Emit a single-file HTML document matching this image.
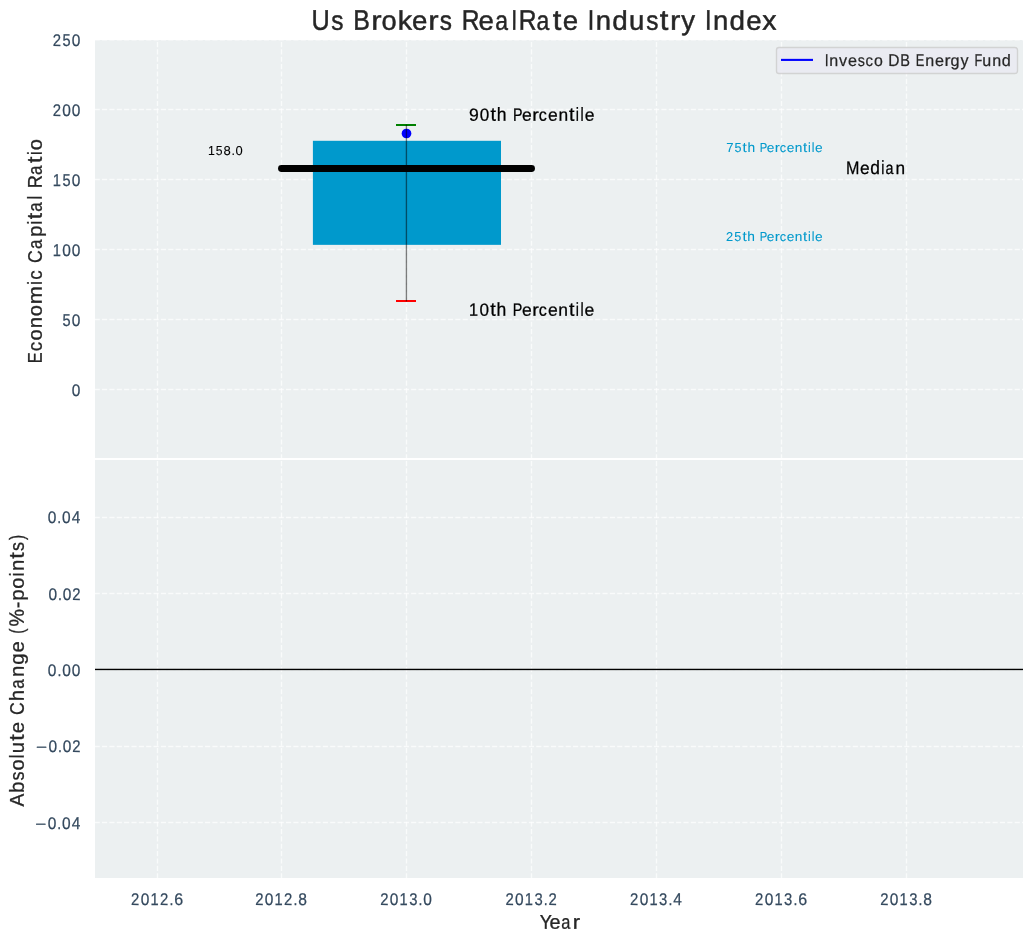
<!DOCTYPE html>
<html><head><meta charset="utf-8"><title>Us Brokers RealRate Industry Index</title>
<style>
html,body{margin:0;padding:0;background:#ffffff;}
body{width:1034px;height:942px;overflow:hidden;}
svg{display:block;will-change:transform;}
svg text{font-family:"Liberation Sans",sans-serif;}
</style></head>
<body>
<svg width="1034" height="942" viewBox="0 0 1034 942">
<rect x="0" y="0" width="1034" height="942" fill="#ffffff"/>
<defs><clipPath id="axt"><rect x="95" y="40" width="928" height="419"/></clipPath><clipPath id="axb"><rect x="95" y="459" width="928" height="419"/></clipPath></defs>
<rect x="95" y="40" width="928" height="838" fill="#ecf0f1"/>
<g clip-path="url(#axt)" stroke="#ffffff" stroke-opacity="0.7" stroke-width="1.39" stroke-dasharray="5.14 2.22" fill="none">
<path d="M94.65 39.70H1023"/>
<path d="M94.65 109.50H1023"/>
<path d="M94.65 179.50H1023"/>
<path d="M94.65 249.50H1023"/>
<path d="M94.65 319.50H1023"/>
<path d="M94.65 389.50H1023"/>
<path d="M157.50 459.3V40"/>
<path d="M281.50 459.3V40"/>
<path d="M406.50 459.3V40"/>
<path d="M531.50 459.3V40"/>
<path d="M656.50 459.3V40"/>
<path d="M781.50 459.3V40"/>
<path d="M906.50 459.3V40"/>
</g>
<g clip-path="url(#axb)" stroke="#ffffff" stroke-opacity="0.7" stroke-width="1.39" stroke-dasharray="5.14 2.22" fill="none">
<path d="M94.65 517.50H1023"/>
<path d="M94.65 593.50H1023"/>
<path d="M94.65 669.50H1023"/>
<path d="M94.65 746.50H1023"/>
<path d="M94.65 822.50H1023"/>
<path d="M157.50 878.3V459"/>
<path d="M281.50 878.3V459"/>
<path d="M406.50 878.3V459"/>
<path d="M531.50 878.3V459"/>
<path d="M656.50 878.3V459"/>
<path d="M781.50 878.3V459"/>
<path d="M906.50 878.3V459"/>
</g>
<rect x="95" y="458" width="928" height="2" fill="#ffffff"/>
<rect x="312.9" y="140.8" width="188.1" height="104.05" fill="#0099cc"/>
<rect x="396" y="124" width="20" height="2" fill="#008000"/>
<rect x="396" y="300" width="20" height="2" fill="#ff0000"/>
<circle cx="406.5" cy="133.5" r="4.85" fill="#0000ff"/>
<rect x="405.75" y="124.6" width="1.35" height="176.8" fill="#000000" fill-opacity="0.5"/>
<path d="M281.5 168.5H531.5" stroke="#000000" stroke-width="6.94" stroke-linecap="round" fill="none"/>
<rect x="95" y="668.75" width="928" height="1.4" fill="#000000"/>
<rect x="776.5" y="47.5" width="241" height="26" rx="2.6" ry="2.6" fill="#eaeaf2" fill-opacity="0.8" stroke="#cccccc" stroke-opacity="0.8" stroke-width="1.39"/>
<path d="M781 59.9H813" stroke="#0000ff" stroke-width="2.1" fill="none"/>
<g aria-label="Us Brokers RealRate Industry Index" fill="#262626" stroke="#262626" stroke-width="0.45" font-size="26.467"><text transform="matrix(0.9529 .002 -.002 1.0737 311.48 29.77)">U</text><text transform="matrix(0.9196 .002 -.002 1.0245 331.25 29.77)">s</text><text transform="matrix(0.9396 .002 -.002 1.0737 353.26 29.77)">B</text><text transform="matrix(1.1700 .002 -.002 1.0217 371.20 29.77)">r</text><text transform="matrix(1.0271 .002 -.002 1.0217 381.47 29.77)">o</text><text transform="matrix(1.0789 .002 -.002 1.0194 397.83 29.77)">k</text><text transform="matrix(1.0439 .002 -.002 1.0217 412.02 29.77)">e</text><text transform="matrix(1.1700 .002 -.002 1.0217 428.36 29.77)">r</text><text transform="matrix(0.9196 .002 -.002 1.0245 439.65 29.77)">s</text><text transform="matrix(0.9278 .002 -.002 1.0737 461.68 29.77)">R</text><text transform="matrix(1.0439 .002 -.002 1.0217 478.58 29.77)">e</text><text transform="matrix(0.8661 .002 -.002 1.0217 495.20 29.77)">a</text><text transform="matrix(0.8288 .002 -.002 1.0194 511.82 29.77)">l</text><text transform="matrix(0.9278 .002 -.002 1.0737 518.74 29.77)">R</text><text transform="matrix(0.8661 .002 -.002 1.0217 536.58 29.77)">a</text><text transform="matrix(1.1700 .002 -.002 1.0841 552.76 29.77)">t</text><text transform="matrix(1.0439 .002 -.002 1.0217 562.84 29.77)">e</text><text transform="matrix(0.8753 .002 -.002 1.0737 587.71 29.77)">I</text><text transform="matrix(1.0381 .002 -.002 1.0217 595.64 29.77)">n</text><text transform="matrix(1.0491 .002 -.002 1.0194 612.13 29.77)">d</text><text transform="matrix(1.0381 .002 -.002 1.0406 629.10 29.77)">u</text><text transform="matrix(0.9196 .002 -.002 1.0245 646.16 29.77)">s</text><text transform="matrix(1.1700 .002 -.002 1.0841 659.78 29.77)">t</text><text transform="matrix(1.1700 .002 -.002 1.0217 669.92 29.77)">r</text><text transform="matrix(1.0396 .002 -.002 1.0406 681.18 29.77)">y</text><text transform="matrix(0.8753 .002 -.002 1.0737 704.99 29.77)">I</text><text transform="matrix(1.0381 .002 -.002 1.0217 712.91 29.77)">n</text><text transform="matrix(1.0491 .002 -.002 1.0194 729.40 29.77)">d</text><text transform="matrix(1.0439 .002 -.002 1.0217 746.20 29.77)">e</text><text transform="matrix(1.0737 .002 -.002 1.0406 762.17 29.77)">x</text></g>
<g aria-label="Year" fill="#262626" stroke="#262626" stroke-width="0.30" font-size="18.876"><text transform="matrix(0.9615 .002 -.002 1.0552 539.75 928.85)">Y</text><text transform="matrix(1.0467 .002 -.002 1.0538 549.41 928.85)">e</text><text transform="matrix(0.8687 .002 -.002 1.0538 561.26 928.85)">a</text><text transform="matrix(1.1700 .002 -.002 1.0538 572.64 928.85)">r</text></g>
<g aria-label="Invesco DB Energy Fund" fill="#262626" stroke="#262626" stroke-width="0.22" font-size="15.381"><text transform="matrix(0.9021 .002 -.002 1.1129 824.63 65.89)">I</text><text transform="matrix(1.0440 .002 -.002 1.0605 829.27 65.89)">n</text><text transform="matrix(1.0498 .002 -.002 1.0801 839.09 65.89)">v</text><text transform="matrix(1.0492 .002 -.002 1.0605 847.95 65.89)">e</text><text transform="matrix(0.9253 .002 -.002 1.0634 857.69 65.89)">s</text><text transform="matrix(0.9698 .002 -.002 1.0605 865.48 65.89)">c</text><text transform="matrix(1.0324 .002 -.002 1.0605 873.90 65.89)">o</text><text transform="matrix(1.0101 .002 -.002 1.1129 888.26 65.89)">D</text><text transform="matrix(0.9443 .002 -.002 1.1129 900.18 65.89)">B</text><text transform="matrix(0.8399 .002 -.002 1.1129 915.76 65.89)">E</text><text transform="matrix(1.0440 .002 -.002 1.0605 925.35 65.89)">n</text><text transform="matrix(1.0492 .002 -.002 1.0605 934.94 65.89)">e</text><text transform="matrix(1.1700 .002 -.002 1.0605 944.44 65.89)">r</text><text transform="matrix(1.0546 .002 -.002 1.0634 950.46 65.89)">g</text><text transform="matrix(1.0446 .002 -.002 1.0801 960.47 65.89)">y</text><text transform="matrix(0.8275 .002 -.002 1.1129 974.51 65.89)">F</text><text transform="matrix(1.0440 .002 -.002 1.0801 982.31 65.89)">u</text><text transform="matrix(1.0440 .002 -.002 1.0605 992.13 65.89)">n</text><text transform="matrix(1.0546 .002 -.002 1.0746 1001.71 65.89)">d</text></g>
<g aria-label="90th Percentile" fill="#000000" stroke="#000000" stroke-width="0.25" font-size="16.681"><text transform="matrix(1.0563 .002 -.002 1.0603 469.00 120.87)">9</text><text transform="matrix(1.0227 .002 -.002 1.0603 479.82 120.87)">0</text><text transform="matrix(1.1700 .002 -.002 1.1452 490.38 120.87)">t</text><text transform="matrix(1.0501 .002 -.002 1.1293 496.84 120.87)">h</text><text transform="matrix(0.8562 .002 -.002 1.0761 512.88 120.87)">P</text><text transform="matrix(1.0481 .002 -.002 1.0417 522.06 120.87)">e</text><text transform="matrix(1.1700 .002 -.002 1.0417 532.36 120.87)">r</text><text transform="matrix(0.9686 .002 -.002 1.0417 538.87 120.87)">c</text><text transform="matrix(1.0481 .002 -.002 1.0417 547.98 120.87)">e</text><text transform="matrix(1.0428 .002 -.002 1.0417 558.43 120.87)">n</text><text transform="matrix(1.1700 .002 -.002 1.1452 569.02 120.87)">t</text><text transform="matrix(0.8515 .002 -.002 1.1293 575.80 120.87)">i</text><text transform="matrix(0.8515 .002 -.002 1.1293 580.43 120.87)">l</text><text transform="matrix(1.0481 .002 -.002 1.0417 584.63 120.87)">e</text></g>
<g aria-label="10th Percentile" fill="#000000" stroke="#000000" stroke-width="0.25" font-size="16.719"><text transform="matrix(0.9720 .002 -.002 1.0736 469.09 315.87)">1</text><text transform="matrix(1.0227 .002 -.002 1.0578 479.56 315.87)">0</text><text transform="matrix(1.1700 .002 -.002 1.1425 490.15 315.87)">t</text><text transform="matrix(1.0500 .002 -.002 1.1266 496.62 315.87)">h</text><text transform="matrix(0.8562 .002 -.002 1.0736 512.70 315.87)">P</text><text transform="matrix(1.0481 .002 -.002 1.0392 521.89 315.87)">e</text><text transform="matrix(1.1700 .002 -.002 1.0392 532.22 315.87)">r</text><text transform="matrix(0.9686 .002 -.002 1.0392 538.74 315.87)">c</text><text transform="matrix(1.0481 .002 -.002 1.0392 547.88 315.87)">e</text><text transform="matrix(1.0428 .002 -.002 1.0392 558.35 315.87)">n</text><text transform="matrix(1.1700 .002 -.002 1.1425 568.97 315.87)">t</text><text transform="matrix(0.8513 .002 -.002 1.1266 575.76 315.87)">i</text><text transform="matrix(0.8513 .002 -.002 1.1266 580.40 315.87)">l</text><text transform="matrix(1.0481 .002 -.002 1.0392 584.61 315.87)">e</text></g>
<g aria-label="75th Percentile" fill="#0099cc" stroke="#0099cc" stroke-width="0.08" font-size="12.826"><text transform="matrix(1.0174 .002 -.002 1.0109 726.27 151.96)">7</text><text transform="matrix(0.9817 .002 -.002 1.0109 734.53 151.96)">5</text><text transform="matrix(1.1700 .002 -.002 1.0757 742.56 151.96)">t</text><text transform="matrix(1.0709 .002 -.002 1.0458 747.45 151.96)">h</text><text transform="matrix(0.8727 .002 -.002 1.0109 759.78 151.96)">P</text><text transform="matrix(1.0668 .002 -.002 1.0172 766.85 151.96)">e</text><text transform="matrix(1.1700 .002 -.002 1.0172 774.78 151.96)">r</text><text transform="matrix(0.9889 .002 -.002 1.0172 779.77 151.96)">c</text><text transform="matrix(1.0668 .002 -.002 1.0172 786.78 151.96)">e</text><text transform="matrix(1.0635 .002 -.002 1.0172 794.81 151.96)">n</text><text transform="matrix(1.1700 .002 -.002 1.0757 803.03 151.96)">t</text><text transform="matrix(0.9513 .002 -.002 1.0458 808.10 151.96)">i</text><text transform="matrix(0.9513 .002 -.002 1.0458 811.65 151.96)">l</text><text transform="matrix(1.0668 .002 -.002 1.0172 814.96 151.96)">e</text></g>
<g aria-label="25th Percentile" fill="#0099cc" stroke="#0099cc" stroke-width="0.08" font-size="12.851"><text transform="matrix(1.0024 .002 -.002 0.9941 725.99 240.96)">2</text><text transform="matrix(0.9817 .002 -.002 1.0089 734.36 240.96)">5</text><text transform="matrix(1.1700 .002 -.002 1.0736 742.40 240.96)">t</text><text transform="matrix(1.0709 .002 -.002 1.0438 747.30 240.96)">h</text><text transform="matrix(0.8727 .002 -.002 1.0089 759.66 240.96)">P</text><text transform="matrix(1.0669 .002 -.002 1.0152 766.74 240.96)">e</text><text transform="matrix(1.1700 .002 -.002 1.0152 774.69 240.96)">r</text><text transform="matrix(0.9890 .002 -.002 1.0152 779.69 240.96)">c</text><text transform="matrix(1.0669 .002 -.002 1.0152 786.71 240.96)">e</text><text transform="matrix(1.0635 .002 -.002 1.0152 794.75 240.96)">n</text><text transform="matrix(1.1700 .002 -.002 1.0736 802.99 240.96)">t</text><text transform="matrix(0.9514 .002 -.002 1.0438 808.07 240.96)">i</text><text transform="matrix(0.9514 .002 -.002 1.0438 811.63 240.96)">l</text><text transform="matrix(1.0669 .002 -.002 1.0152 814.94 240.96)">e</text></g>
<g aria-label="Median" fill="#000000" stroke="#000000" stroke-width="0.25" font-size="16.502"><text transform="matrix(0.9747 .002 -.002 1.0969 846.00 173.88)">M</text><text transform="matrix(1.0483 .002 -.002 1.0646 860.12 173.88)">e</text><text transform="matrix(1.0536 .002 -.002 1.1502 870.27 173.88)">d</text><text transform="matrix(0.8522 .002 -.002 1.1502 881.18 173.88)">i</text><text transform="matrix(0.8702 .002 -.002 1.0646 885.54 173.88)">a</text><text transform="matrix(1.0430 .002 -.002 1.0646 895.62 173.88)">n</text></g>
<g aria-label="158.0" fill="#000000" stroke="#000000" stroke-width="0.08" font-size="12.432"><text transform="matrix(0.9919 .002 -.002 1.0429 207.90 154.96)">1</text><text transform="matrix(0.9813 .002 -.002 1.0429 215.85 154.96)">5</text><text transform="matrix(1.0518 .002 -.002 1.0275 223.57 154.96)">8</text><text transform="matrix(1.0145 .002 -.002 1.1598 231.38 154.96)">.</text><text transform="matrix(1.0407 .002 -.002 1.0275 235.47 154.96)">0</text></g>
<g aria-label="250" fill="#34495e" stroke="#34495e" stroke-width="0.22" font-size="15.080"><text transform="matrix(0.9845 .002 -.002 1.1191 52.63 45.89)">2</text><text transform="matrix(0.9645 .002 -.002 1.1358 62.45 45.89)">5</text><text transform="matrix(1.0241 .002 -.002 1.1191 71.86 45.89)">0</text></g>
<g aria-label="200" fill="#34495e" stroke="#34495e" stroke-width="0.22" font-size="15.080"><text transform="matrix(0.9845 .002 -.002 1.1191 52.63 115.89)">2</text><text transform="matrix(1.0241 .002 -.002 1.1191 62.26 115.89)">0</text><text transform="matrix(1.0241 .002 -.002 1.1191 71.86 115.89)">0</text></g>
<g aria-label="150" fill="#34495e" stroke="#34495e" stroke-width="0.22" font-size="15.080"><text transform="matrix(0.9735 .002 -.002 1.1358 52.82 185.89)">1</text><text transform="matrix(0.9645 .002 -.002 1.1358 62.45 185.89)">5</text><text transform="matrix(1.0241 .002 -.002 1.1191 71.86 185.89)">0</text></g>
<g aria-label="100" fill="#34495e" stroke="#34495e" stroke-width="0.22" font-size="15.080"><text transform="matrix(0.9735 .002 -.002 1.1358 52.82 255.89)">1</text><text transform="matrix(1.0241 .002 -.002 1.1191 62.26 255.89)">0</text><text transform="matrix(1.0241 .002 -.002 1.1191 71.86 255.89)">0</text></g>
<g aria-label="50" fill="#34495e" stroke="#34495e" stroke-width="0.22" font-size="15.080"><text transform="matrix(0.9645 .002 -.002 1.1358 62.45 325.89)">5</text><text transform="matrix(1.0241 .002 -.002 1.1191 71.86 325.89)">0</text></g>
<g aria-label="0" fill="#34495e" stroke="#34495e" stroke-width="0.22" font-size="15.080"><text transform="matrix(1.0241 .002 -.002 1.1191 71.86 395.89)">0</text></g>
<g aria-label="0.04" fill="#34495e" stroke="#34495e" stroke-width="0.22" font-size="15.080"><text transform="matrix(1.0241 .002 -.002 1.1191 47.72 522.89)">0</text><text transform="matrix(0.9311 .002 -.002 1.1598 57.25 522.89)">.</text><text transform="matrix(1.0241 .002 -.002 1.1191 62.11 522.89)">0</text><text transform="matrix(1.0257 .002 -.002 1.1358 71.69 522.89)">4</text></g>
<g aria-label="0.02" fill="#34495e" stroke="#34495e" stroke-width="0.22" font-size="15.080"><text transform="matrix(1.0241 .002 -.002 1.1191 48.38 599.89)">0</text><text transform="matrix(0.9311 .002 -.002 1.1598 57.92 599.89)">.</text><text transform="matrix(1.0241 .002 -.002 1.1191 62.77 599.89)">0</text><text transform="matrix(0.9845 .002 -.002 1.1191 72.33 599.89)">2</text></g>
<g aria-label="0.00" fill="#34495e" stroke="#34495e" stroke-width="0.22" font-size="15.080"><text transform="matrix(1.0241 .002 -.002 1.1191 47.87 675.89)">0</text><text transform="matrix(0.9311 .002 -.002 1.1598 57.41 675.89)">.</text><text transform="matrix(1.0241 .002 -.002 1.1191 62.26 675.89)">0</text><text transform="matrix(1.0241 .002 -.002 1.1191 71.86 675.89)">0</text></g>
<g aria-label="−0.02" fill="#34495e" stroke="#34495e" stroke-width="0.22" font-size="15.080"><text transform="matrix(1.2589 .002 -.002 0.9427 36.02 751.89)">−</text><text transform="matrix(1.0241 .002 -.002 1.1191 48.38 751.89)">0</text><text transform="matrix(0.9311 .002 -.002 1.1598 57.92 751.89)">.</text><text transform="matrix(1.0241 .002 -.002 1.1191 62.77 751.89)">0</text><text transform="matrix(0.9845 .002 -.002 1.1191 72.33 751.89)">2</text></g>
<g aria-label="−0.04" fill="#34495e" stroke="#34495e" stroke-width="0.22" font-size="15.080"><text transform="matrix(1.2589 .002 -.002 0.9427 35.35 828.89)">−</text><text transform="matrix(1.0241 .002 -.002 1.1191 47.72 828.89)">0</text><text transform="matrix(0.9311 .002 -.002 1.1598 57.25 828.89)">.</text><text transform="matrix(1.0241 .002 -.002 1.1191 62.11 828.89)">0</text><text transform="matrix(1.0257 .002 -.002 1.1358 71.69 828.89)">4</text></g>
<g aria-label="2012.6" fill="#34495e" stroke="#34495e" stroke-width="0.22" font-size="15.080"><text transform="matrix(0.9845 .002 -.002 1.1191 131.11 904.89)">2</text><text transform="matrix(1.0241 .002 -.002 1.1191 140.73 904.89)">0</text><text transform="matrix(0.9735 .002 -.002 1.1358 150.48 904.89)">1</text><text transform="matrix(0.9845 .002 -.002 1.1191 159.89 904.89)">2</text><text transform="matrix(0.9311 .002 -.002 1.1598 169.46 904.89)">.</text><text transform="matrix(1.0599 .002 -.002 1.1191 174.16 904.89)">6</text></g>
<g aria-label="2012.8" fill="#34495e" stroke="#34495e" stroke-width="0.22" font-size="15.080"><text transform="matrix(0.9845 .002 -.002 1.1191 255.15 904.89)">2</text><text transform="matrix(1.0241 .002 -.002 1.1191 264.77 904.89)">0</text><text transform="matrix(0.9735 .002 -.002 1.1358 274.52 904.89)">1</text><text transform="matrix(0.9845 .002 -.002 1.1191 283.93 904.89)">2</text><text transform="matrix(0.9311 .002 -.002 1.1598 293.50 904.89)">.</text><text transform="matrix(1.0349 .002 -.002 1.1191 298.31 904.89)">8</text></g>
<g aria-label="2013.0" fill="#34495e" stroke="#34495e" stroke-width="0.22" font-size="15.080"><text transform="matrix(0.9845 .002 -.002 1.1191 380.13 904.89)">2</text><text transform="matrix(1.0241 .002 -.002 1.1191 389.76 904.89)">0</text><text transform="matrix(0.9735 .002 -.002 1.1358 399.50 904.89)">1</text><text transform="matrix(0.9821 .002 -.002 1.1191 409.14 904.89)">3</text><text transform="matrix(0.9311 .002 -.002 1.1598 418.48 904.89)">.</text><text transform="matrix(1.0241 .002 -.002 1.1191 423.34 904.89)">0</text></g>
<g aria-label="2013.2" fill="#34495e" stroke="#34495e" stroke-width="0.22" font-size="15.080"><text transform="matrix(0.9845 .002 -.002 1.1191 505.39 904.89)">2</text><text transform="matrix(1.0241 .002 -.002 1.1191 515.01 904.89)">0</text><text transform="matrix(0.9735 .002 -.002 1.1358 524.76 904.89)">1</text><text transform="matrix(0.9821 .002 -.002 1.1191 534.40 904.89)">3</text><text transform="matrix(0.9311 .002 -.002 1.1598 543.74 904.89)">.</text><text transform="matrix(0.9845 .002 -.002 1.1191 548.56 904.89)">2</text></g>
<g aria-label="2013.4" fill="#34495e" stroke="#34495e" stroke-width="0.22" font-size="15.080"><text transform="matrix(0.9845 .002 -.002 1.1191 630.05 904.89)">2</text><text transform="matrix(1.0241 .002 -.002 1.1191 639.68 904.89)">0</text><text transform="matrix(0.9735 .002 -.002 1.1358 649.42 904.89)">1</text><text transform="matrix(0.9821 .002 -.002 1.1191 659.06 904.89)">3</text><text transform="matrix(0.9311 .002 -.002 1.1598 668.40 904.89)">.</text><text transform="matrix(1.0257 .002 -.002 1.1358 673.25 904.89)">4</text></g>
<g aria-label="2013.6" fill="#34495e" stroke="#34495e" stroke-width="0.22" font-size="15.080"><text transform="matrix(0.9845 .002 -.002 1.1191 755.11 904.89)">2</text><text transform="matrix(1.0241 .002 -.002 1.1191 764.73 904.89)">0</text><text transform="matrix(0.9735 .002 -.002 1.1358 774.48 904.89)">1</text><text transform="matrix(0.9821 .002 -.002 1.1191 784.12 904.89)">3</text><text transform="matrix(0.9311 .002 -.002 1.1598 793.46 904.89)">.</text><text transform="matrix(1.0599 .002 -.002 1.1191 798.16 904.89)">6</text></g>
<g aria-label="2013.8" fill="#34495e" stroke="#34495e" stroke-width="0.22" font-size="15.080"><text transform="matrix(0.9845 .002 -.002 1.1191 880.15 904.89)">2</text><text transform="matrix(1.0241 .002 -.002 1.1191 889.77 904.89)">0</text><text transform="matrix(0.9735 .002 -.002 1.1358 899.52 904.89)">1</text><text transform="matrix(0.9821 .002 -.002 1.1191 909.16 904.89)">3</text><text transform="matrix(0.9311 .002 -.002 1.1598 918.50 904.89)">.</text><text transform="matrix(1.0349 .002 -.002 1.1191 923.31 904.89)">8</text></g>
<g aria-label="Economic Capital Ratio" fill="#262626" stroke="#262626" stroke-width="0.31" font-size="19.504" transform="translate(42 362.00) rotate(-90)"><text transform="matrix(0.8374 .002 -.002 1.0202 -1.18 -0.15)">E</text><text transform="matrix(0.9666 .002 -.002 1.0186 10.84 -0.15)">c</text><text transform="matrix(1.0295 .002 -.002 1.0186 21.52 -0.15)">o</text><text transform="matrix(1.0408 .002 -.002 1.0186 33.64 -0.15)">n</text><text transform="matrix(1.0295 .002 -.002 1.0186 45.82 -0.15)">o</text><text transform="matrix(1.1167 .002 -.002 1.0186 57.84 -0.15)">m</text><text transform="matrix(0.8416 .002 -.002 1.0394 77.26 -0.15)">i</text><text transform="matrix(0.9666 .002 -.002 1.0186 82.21 -0.15)">c</text><text transform="matrix(0.9032 .002 -.002 1.0053 99.06 -0.15)">C</text><text transform="matrix(0.8683 .002 -.002 1.0186 112.93 -0.15)">a</text><text transform="matrix(1.0527 .002 -.002 1.0195 124.88 -0.15)">p</text><text transform="matrix(0.8416 .002 -.002 1.0394 137.55 -0.15)">i</text><text transform="matrix(1.1700 .002 -.002 1.0857 142.67 -0.15)">t</text><text transform="matrix(0.8683 .002 -.002 1.0186 150.33 -0.15)">a</text><text transform="matrix(0.8416 .002 -.002 1.0394 162.56 -0.15)">l</text><text transform="matrix(0.9297 .002 -.002 1.0202 173.87 -0.15)">R</text><text transform="matrix(0.8683 .002 -.002 1.0186 187.02 -0.15)">a</text><text transform="matrix(1.1700 .002 -.002 1.0857 198.96 -0.15)">t</text><text transform="matrix(0.8416 .002 -.002 1.0394 206.91 -0.15)">i</text><text transform="matrix(1.0295 .002 -.002 1.0186 211.82 -0.15)">o</text></g>
<g aria-label="Absolute Change (%-points)" fill="#262626" stroke="#262626" stroke-width="0.31" font-size="19.498" transform="translate(24 806.70) rotate(-90)"><text transform="matrix(0.9834 .002 -.002 1.0206 0.12 -0.15)">A</text><text transform="matrix(1.0527 .002 -.002 1.0398 13.79 -0.15)">b</text><text transform="matrix(0.9222 .002 -.002 1.0217 26.27 -0.15)">s</text><text transform="matrix(1.0295 .002 -.002 1.0189 36.11 -0.15)">o</text><text transform="matrix(0.8416 .002 -.002 1.0398 48.54 -0.15)">l</text><text transform="matrix(1.0408 .002 -.002 1.0378 53.56 -0.15)">u</text><text transform="matrix(1.1700 .002 -.002 1.0861 66.02 -0.15)">t</text><text transform="matrix(1.0463 .002 -.002 1.0189 73.43 -0.15)">e</text><text transform="matrix(0.9032 .002 -.002 1.0056 91.62 -0.15)">C</text><text transform="matrix(1.0480 .002 -.002 1.0398 105.39 -0.15)">h</text><text transform="matrix(0.8683 .002 -.002 1.0189 117.84 -0.15)">a</text><text transform="matrix(1.0408 .002 -.002 1.0189 129.76 -0.15)">n</text><text transform="matrix(1.0516 .002 -.002 1.0217 141.91 -0.15)">g</text><text transform="matrix(1.0463 .002 -.002 1.0189 154.28 -0.15)">e</text><text transform="matrix(0.8000 .002 -.002 1.0472 172.94 -0.15)">(</text><text transform="matrix(1.0075 .002 -.002 1.0697 180.25 -0.15)">%</text><text transform="matrix(1.0130 .002 -.002 1.0312 198.48 -0.15)">-</text><text transform="matrix(1.0527 .002 -.002 1.0199 205.89 -0.15)">p</text><text transform="matrix(1.0295 .002 -.002 1.0189 218.05 -0.15)">o</text><text transform="matrix(0.8416 .002 -.002 1.0398 230.48 -0.15)">i</text><text transform="matrix(1.0408 .002 -.002 1.0189 235.59 -0.15)">n</text><text transform="matrix(1.1700 .002 -.002 1.0861 247.96 -0.15)">t</text><text transform="matrix(0.9222 .002 -.002 1.0217 255.72 -0.15)">s</text><text transform="matrix(0.8000 .002 -.002 1.0472 266.76 -0.15)">)</text></g>
</svg>
</body></html>
